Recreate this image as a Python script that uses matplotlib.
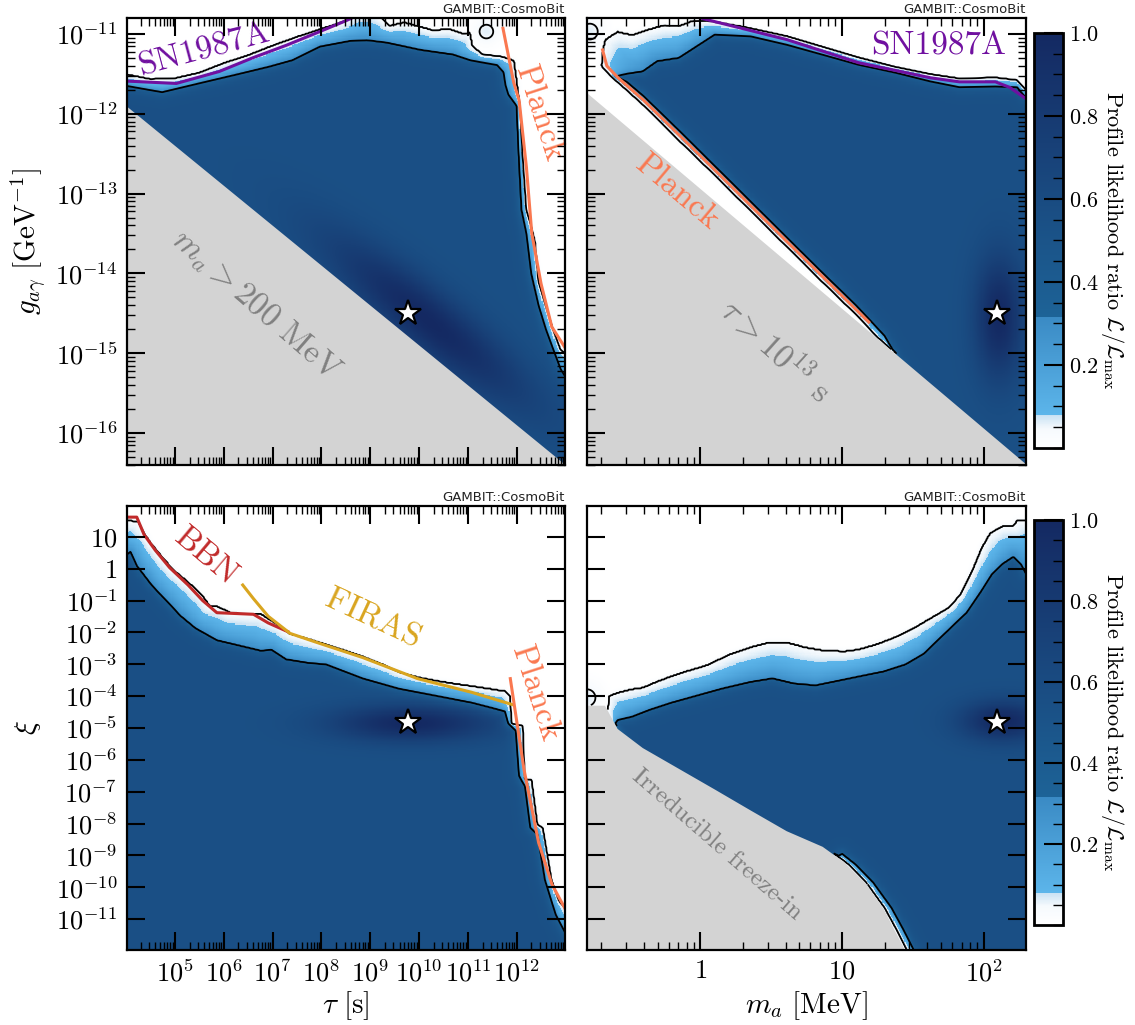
import numpy as np
import matplotlib
matplotlib.use("Agg")
import matplotlib.pyplot as plt
from matplotlib.path import Path
from matplotlib.colors import LinearSegmentedColormap, Normalize
from matplotlib.cm import ScalarMappable
from matplotlib import ticker

plt.rcParams.update({
    "font.family": "serif",
    "font.serif": ["cmr10", "DejaVu Serif"],
    "mathtext.fontset": "cm",
    "axes.unicode_minus": False,
    "axes.formatter.use_mathtext": True,
})

################################################################################
# Data (all values are log10 of the axis quantity)
################################################################################

# axis ranges
tau_lim = [4.02, 12.99]
ma_lim = [-0.8, 2.3]
g_lim = [-16.4, -10.8]
xi_lim = [-11.97, 1.97]

# contour levels: 2 sigma and 1 sigma of L/Lmax
lvl_2s = 0.0455
lvl_1s = 0.3166

# --- (tau, g) panel
a_out_x = [3.9, 4.0, 4.5, 5.0, 5.5, 6.0, 6.5, 7.0, 7.5, 8.0, 8.45, 8.7, 9.1, 9.4, 9.7, 10.0, 10.3, 10.6,
           10.9, 11.05, 11.1, 11.3, 11.7, 11.95, 12.0, 12.07, 12.12, 12.2, 12.3, 12.38, 12.45, 12.6, 12.75,
           12.9, 13.1]
a_out_y = [-11.50, -11.50, -11.56, -11.55, -11.48, -11.36, -11.26, -11.14, -11.03, -10.93, -10.84, -10.72,
           -10.72, -10.89, -10.85, -10.90, -10.95, -10.93, -10.99, -10.98, -11.15, -11.25, -11.28, -11.33,
           -11.55, -11.9, -12.5, -13.2, -13.4, -13.6, -14.1, -14.4, -14.7, -14.95, -15.05]
a_in_x = [3.9, 4.0, 4.74, 5.56, 6.26, 6.94, 7.41, 7.97, 8.58, 8.93, 9.34, 10.02, 10.70, 11.05, 11.60, 11.73,
          11.77, 11.83, 12.0, 12.05, 12.1, 12.2, 12.3, 12.45, 12.6, 12.75, 12.9, 13.1]
a_in_y = [-11.65, -11.65, -11.73, -11.61, -11.51, -11.41, -11.33, -11.16, -11.09, -11.08, -11.11, -11.20,
          -11.26, -11.33, -11.39, -11.48, -11.64, -11.76, -11.9, -12.6, -13.2, -13.5, -14.0, -14.4, -14.7,
          -14.95, -15.2, -15.4]
a_gray_x = [3.9, 13.1, 3.9]
a_gray_y = [-11.85, -16.45, -16.45]
a_sn_x = [4.0, 5.03, 5.91, 6.59, 7.29, 7.97, 8.52, 8.9]
a_sn_y = [-11.59, -11.62, -11.47, -11.30, -11.14, -10.97, -10.83, -10.72]
a_planck_x = [11.72, 11.94, 12.05, 12.2, 12.31, 12.5, 12.72, 12.98]
a_planck_y = [-10.93, -11.61, -11.83, -12.67, -13.5, -14.13, -14.67, -14.92]
a_star = [9.78, -14.50]

# --- (m_a, g) panel
b_out_x = [1.42, 1.38, 1.25, 1.10, 0.85, 0.60, 0.35, 0.10, -0.15, -0.40, -0.55, -0.64, -0.70, -0.69,
           -0.673, -0.584, -0.482, -0.381, -0.254, -0.152, -0.05, 0.051, 0.305, 0.61, 0.864, 1.118, 1.373,
           1.627, 1.83, 2.084, 2.237, 2.30, 2.4]
b_out_y = [-15.2, -15.0, -14.80, -14.52, -14.09, -13.65, -13.21, -12.77, -12.34, -11.90, -11.66, -11.52,
           -11.40, -11.2, -11.07, -10.967, -11.009, -10.947, -10.884, -10.896, -10.829, -10.829, -10.905,
           -11.022, -11.156, -11.29, -11.407, -11.499, -11.553, -11.541, -11.574, -11.70, -11.78]
b_in_x = [1.45, 1.30, 1.10, 0.85, 0.60, 0.35, 0.10, -0.15, -0.40, -0.52, -0.60, -0.52, -0.406, -0.305,
          -0.152, -0.025, 0.102, 0.356, 0.61, 0.864, 1.118, 1.373, 1.627, 1.83, 2.084, 2.237, 2.30, 2.4]
b_in_y = [-15.25, -14.78, -14.40, -13.97, -13.53, -13.09, -12.65, -12.21, -11.78, -11.60, -11.53, -11.50,
          -11.47, -11.344, -11.302, -11.156, -11.009, -11.03, -11.135, -11.26, -11.386, -11.482, -11.595,
          -11.667, -11.658, -11.667, -11.80, -11.9]
b_gray_x = [-0.9, 2.4, -0.9]
b_gray_y = [-11.59, -16.54, -16.54]
b_sn_x = [0.0, 0.61, 1.118, 1.627, 1.83, 2.084, 2.186, 2.29]
b_sn_y = [-10.8, -11.07, -11.36, -11.55, -11.60, -11.60, -11.67, -11.80]
b_planck_x = [-0.69, -0.66, -0.58, -0.40, 0.10, 0.60, 1.19]
b_planck_y = [-11.20, -11.40, -11.55, -11.83, -12.70, -13.58, -14.61]
b_star = [2.097, -14.50]

# --- (tau, xi) panel
c_out_x = [3.9, 4.04, 4.26, 4.37, 4.52, 4.75, 4.97, 5.27, 5.57, 5.72, 5.86, 6.16, 6.76, 7.06, 7.36, 7.73,
           8.10, 8.85, 9.29, 9.59, 9.97, 10.34, 10.79, 11.08, 11.76, 11.87, 11.90, 12.13, 12.17, 12.31,
           12.43, 12.54, 12.72, 12.87, 13.1]
c_out_y = [1.45, 1.54, 1.48, 1.13, 0.80, 0.37, -0.02, -0.40, -0.83, -1.16, -1.16, -1.38, -1.40, -1.70,
           -2.03, -2.19, -2.36, -2.74, -3.01, -3.23, -3.39, -3.50, -3.61, -3.67, -3.83, -3.99, -4.86, -4.92,
           -6.61, -6.61, -8.02, -8.13, -9.77, -10.42, -10.85]
c_in_x = [3.9, 4.0, 4.09, 4.22, 4.52, 4.82, 5.12, 5.42, 5.86, 6.46, 6.76, 6.98, 7.28, 7.73, 8.10, 8.85,
          9.59, 10.34, 11.08, 11.76, 11.83, 11.98, 12.05, 12.17, 12.28, 12.43, 12.58, 12.80, 13.1]
c_in_y = [0.2, 0.42, 0.53, 0.09, -0.51, -1.0, -1.49, -1.87, -2.25, -2.47, -2.58, -2.55, -2.85, -2.96,
          -3.01, -3.45, -3.77, -3.99, -4.21, -4.48, -4.86, -5.08, -6.50, -6.83, -8.13, -8.35, -9.77,
          -10.86, -11.75]
c_bbn_x = [4.0, 4.22, 4.37, 4.6, 4.89, 5.27, 5.57, 5.86, 6.61, 6.91, 7.32]
c_bbn_y = [1.62, 1.62, 1.07, 0.58, 0.04, -0.51, -1.0, -1.38, -1.43, -1.70, -1.98]
c_firas_x = [6.39, 6.61, 6.91, 7.36, 7.88, 8.85, 9.97, 11.08, 11.9]
c_firas_y = [-0.51, -0.94, -1.49, -2.03, -2.30, -2.79, -3.45, -3.88, -4.26]
c_planck_x = [11.87, 12.15, 12.45, 12.72, 13.0]
c_planck_y = [-3.45, -6.3, -8.6, -9.9, -10.7]
c_star = [9.78, -4.81]

# --- (m_a, xi) panel
d_out_up_x = [-0.62, -0.655, -0.648, -0.584, -0.482, -0.406, -0.305, -0.203, -0.101, 0.051, 0.204, 0.356,
              0.483, 0.610, 0.737, 0.864, 1.017, 1.118, 1.245, 1.373, 1.500, 1.627, 1.754, 1.830, 1.881,
              1.932, 1.982, 2.046, 2.135, 2.211, 2.236, 2.4]
d_out_up_y = [-4.9, -4.5, -3.99, -3.88, -3.77, -3.72, -3.53, -3.36, -3.21, -3.01, -2.68, -2.45, -2.30,
              -2.30, -2.45, -2.55, -2.58, -2.52, -2.36, -2.14, -1.87, -1.54, -1.21, -0.83, -0.40, 0.09,
              0.64, 1.13, 1.35, 1.35, 1.54, 1.54]
d_out_lo_x = [0.85, 0.95, 1.05, 1.17, 1.30, 1.38, 1.46, 1.48]
d_out_lo_y = [-9.2, -8.95, -9.3, -9.85, -10.65, -11.3, -12.0, -12.3]
d_in_up_x = [-0.56, -0.60, -0.584, -0.482, -0.355, -0.203, -0.025, 0.153, 0.356, 0.509, 0.661, 0.813,
             0.966, 1.118, 1.296, 1.449, 1.576, 1.677, 1.779, 1.881, 1.982, 2.059, 2.135, 2.211, 2.262,
             2.30, 2.4]
d_in_up_y = [-5.3, -4.85, -4.75, -4.65, -4.43, -4.21, -3.99, -3.77, -3.56, -3.45, -3.61, -3.67, -3.53,
             -3.39, -3.23, -3.01, -2.68, -2.25, -1.81, -1.38, -0.72, -0.18, 0.15, 0.37, 0.15, -0.18, -0.4]
d_in_lo_x = [0.90, 1.00, 1.10, 1.22, 1.35, 1.43, 1.51, 1.53]
d_in_lo_y = [-9.3, -8.95, -9.3, -9.85, -10.65, -11.3, -12.0, -12.3]
d_gray_x = [-0.85, -0.673, -0.584, -0.406, -0.152, 0.102, 0.356, 0.610, 0.864, 1.017, 1.169, 1.296,
            1.372, 1.449, 1.46, -0.85]
d_gray_y = [-4.30, -4.30, -5.03, -5.63, -6.28, -6.93, -7.59, -8.24, -8.73, -9.22, -9.88, -10.69, -11.35,
            -12.0, -12.1, -12.1]
d_star = [2.097, -4.81]

# darker best-fit blobs: centre x, centre y, half length [px], half width [px], angle [deg]
a_blob = [10.2, -14.6, 125, 30, -39]
b_blob = [2.11, -14.55, 60, 24, 90]
c_blob = [9.85, -4.85, 78, 18, 0]
d_blob = [2.14, -4.78, 42, 20, 0]

# small isolated 2 sigma islands: x, y, radius [px]
a_islands = [[11.38, -10.97, 13]]
b_islands = [[-0.78, -10.97, 15]]
d_islands = [[-0.80, -4.05, 16]]

################################################################################
# Helpers
################################################################################

cmap = LinearSegmentedColormap.from_list(
    "gambit_blue",
    [(0.0, "#ffffff"), (0.0455, "#f6fafd"), (0.08, "#c6e0f3"), (0.08, "#5cb5ea"), (0.3166, "#3a8ac4"),
     (0.3166, "#1d6397"), (1.0, "#142962")], N=512)


def log_formatter(lim):
    def pow_label(v, pos):
        e = np.log10(v)
        if e < lim[0] - 1e-6 or e > lim[1] + 1e-6:
            return ""
        e = int(round(e))
        if e == 0:
            return "$1$"
        if e == 1:
            return "$10$"
        return r"$10^{%d}$" % e
    return ticker.FuncFormatter(pow_label)


def curve_dist(qx, qy, curves, x0, y0, kx, ky):
    d2 = np.full(qx.shape, np.inf)
    for cx, cy in curves:
        vx = (np.asarray(cx, float) - x0) * kx
        vy = (np.asarray(cy, float) - y0) * ky
        for i in range(len(vx) - 1):
            dx = vx[i + 1] - vx[i]
            dy = vy[i + 1] - vy[i]
            l2 = dx * dx + dy * dy
            t = np.clip(((qx - vx[i]) * dx + (qy - vy[i]) * dy) / l2, 0, 1)
            d2 = np.minimum(d2, (qx - vx[i] - t * dx) ** 2 + (qy - vy[i] - t * dy) ** 2)
    return np.sqrt(d2)


def likelihood_map(ax, xlim, ylim, out_curves, out_poly, in_curves, in_poly, gray, blob, islands, star):
    pos = ax.get_position()
    kx = pos.width * 1135 / (xlim[1] - xlim[0])
    ky = pos.height * 1025 / (ylim[1] - ylim[0])
    gx = np.linspace(xlim[0], xlim[1], 400)
    gy = np.linspace(ylim[0], ylim[1], 400)
    GX, GY = np.meshgrid(gx, gy)
    qx = (GX - xlim[0]) * kx
    qy = (GY - ylim[0]) * ky
    pts = np.column_stack([GX.ravel(), GY.ravel()])

    inside_o = Path(np.column_stack(out_poly)).contains_points(pts).reshape(GX.shape)
    inside_i = Path(np.column_stack(in_poly)).contains_points(pts).reshape(GX.shape)
    d_o = curve_dist(qx, qy, out_curves, xlim[0], ylim[0], kx, ky) * np.where(inside_o, 1, -1)
    d_i = curve_dist(qx, qy, in_curves, xlim[0], ylim[0], kx, ky) * np.where(inside_i, 1, -1)

    bx = (blob[0] - xlim[0]) * kx
    by = (blob[1] - ylim[0]) * ky
    ang = np.deg2rad(blob[4])
    du = (qx - bx) * np.cos(ang) + (qy - by) * np.sin(ang)
    dv = -(qx - bx) * np.sin(ang) + (qy - by) * np.cos(ang)
    base = 0.55 + 0.45 * np.exp(-(du / blob[2]) ** 2 - (dv / blob[3]) ** 2)

    t = np.clip(d_o / np.maximum(d_o - d_i, 1e-6), 0, 1)
    L = np.where(d_o < 0, lvl_2s * np.exp(d_o / 2.0),
                 np.where(d_i < 0, lvl_2s + (lvl_1s - lvl_2s) * t ** 2.0,
                          lvl_1s + (base - lvl_1s) * (1 - np.exp(-d_i / 4.0))))
    # islands: faint bumps just over the 2 sigma level, so they show as white rings
    for ix, iy, rad in islands:
        r = np.hypot(qx - (ix - xlim[0]) * kx, qy - (iy - ylim[0]) * ky)
        L = np.where(d_o < 0, np.maximum(L, 0.06 * np.exp(-(r / rad) ** 2)), L)

    X = 10 ** gx
    Y = 10 ** gy
    ax.pcolormesh(X, Y, L, cmap=cmap, vmin=0, vmax=1, shading="nearest", rasterized=True, zorder=1)
    if gray is not None:
        in_gray = Path(np.column_stack(gray)).contains_points(pts).reshape(GX.shape)
        Lc = np.ma.masked_where(in_gray, L)
        ax.contour(X, Y, Lc, levels=[lvl_2s, lvl_1s], colors="k", linewidths=1.3, zorder=2)
        ax.fill(10 ** np.asarray(gray[0], float), 10 ** np.asarray(gray[1], float),
                color="#d3d3d3", lw=0, zorder=3)
    else:
        ax.contour(X, Y, L, levels=[lvl_2s, lvl_1s], colors="k", linewidths=1.3, zorder=2)
    ax.plot(10 ** star[0], 10 ** star[1], marker="*", ms=19, mfc="white", mec="black", mew=1.6,
            ls="none", zorder=8)


def style_axes(ax, xlim, ylim, yminor=True):
    ax.set_xscale("log")
    ax.set_yscale("log")
    ax.set_xlim(10 ** xlim[0], 10 ** xlim[1])
    ax.set_ylim(10 ** ylim[0], 10 ** ylim[1])
    for axis, minor, lim in ((ax.xaxis, True, xlim), (ax.yaxis, yminor, ylim)):
        axis.set_major_locator(ticker.LogLocator(base=10, numticks=60))
        if minor:
            axis.set_minor_locator(ticker.LogLocator(base=10, subs=np.arange(2, 10), numticks=60))
        else:
            axis.set_minor_locator(ticker.NullLocator())
        axis.set_major_formatter(log_formatter(lim))
        axis.set_minor_formatter(ticker.NullFormatter())
        axis.set_zorder(20)
    ax.tick_params(which="both", direction="in", top=True, right=True)
    ax.tick_params(which="major", length=13, width=1.5, labelsize=19, pad=7)
    ax.tick_params(which="minor", length=6, width=1.0)
    for sp in ax.spines.values():
        sp.set_linewidth(1.6)
        sp.set_zorder(20)
    ax.text(1.0, 1.004, "GAMBIT::CosmoBit", transform=ax.transAxes, ha="right", va="bottom",
            fontsize=9.5, family="DejaVu Sans", color="#222222")


def label(ax, x, y, s, color, size, rot):
    ax.text(10 ** x, 10 ** y, s, color=color, fontsize=size, rotation=rot, ha="center", va="center",
            rotation_mode="anchor", zorder=6)


def add_colorbar(cax):
    cb = fig.colorbar(ScalarMappable(norm=Normalize(0, 1), cmap=cmap), cax=cax)
    cb.set_ticks([0.2, 0.4, 0.6, 0.8, 1.0])
    cb.ax.yaxis.set_minor_locator(ticker.MultipleLocator(0.05))
    cb.ax.tick_params(which="both", direction="in", right=True, left=False, labelsize=16)
    cb.ax.tick_params(which="major", length=14, width=1.5, pad=4)
    cb.ax.tick_params(which="minor", length=7, width=1.0)
    cb.outline.set_linewidth(2)
    cb.set_label(r"Profile likelihood ratio $\mathcal{L}/\mathcal{L}_\mathrm{max}$", rotation=270,
                 fontsize=16, labelpad=20)


################################################################################
# Plotting
################################################################################

fig = plt.figure(figsize=(11.35, 10.25), dpi=100)
axA = fig.add_axes([127 / 1135, 1 - 465 / 1025, 438 / 1135, 447 / 1025])
axB = fig.add_axes([587 / 1135, 1 - 465 / 1025, 439 / 1135, 447 / 1025])
axC = fig.add_axes([127 / 1135, 1 - 950 / 1025, 438 / 1135, 444 / 1025])
axD = fig.add_axes([587 / 1135, 1 - 950 / 1025, 439 / 1135, 444 / 1025])
cax1 = fig.add_axes([1034 / 1135, 1 - 448 / 1025, 29 / 1135, 415 / 1025])
cax2 = fig.add_axes([1034 / 1135, 1 - 925 / 1025, 29 / 1135, 405 / 1025])

# closing points of the allowed regions run through the grey area or outside the frame
likelihood_map(axA, tau_lim, g_lim,
               [(a_out_x, a_out_y)], (a_out_x + [13.5, 13.5, 3.5, 3.5], a_out_y + [-15.05, -17.5, -17.5, -11.5]),
               [(a_in_x, a_in_y)], (a_in_x + [13.5, 13.5, 3.5, 3.5], a_in_y + [-15.4, -17.5, -17.5, -11.65]),
               (a_gray_x, a_gray_y), a_blob, a_islands, a_star)
likelihood_map(axB, ma_lim, g_lim,
               [(b_out_x, b_out_y)], (b_out_x + [2.6, 2.6], b_out_y + [-11.78, -17.5]),
               [(b_in_x, b_in_y)], (b_in_x + [2.6, 2.6], b_in_y + [-11.9, -17.5]),
               (b_gray_x, b_gray_y), b_blob, b_islands, b_star)
likelihood_map(axC, tau_lim, xi_lim,
               [(c_out_x, c_out_y)], (c_out_x + [13.5, 13.5, 3.5, 3.5], c_out_y + [-10.85, -13, -13, 1.45]),
               [(c_in_x, c_in_y)], (c_in_x + [13.5, 13.5, 3.5, 3.5], c_in_y + [-11.75, -13, -13, 0.2]),
               None, c_blob, [], c_star)
likelihood_map(axD, ma_lim, xi_lim,
               [(d_out_up_x, d_out_up_y), (d_out_lo_x, d_out_lo_y)],
               (d_out_up_x + [2.5, 2.5, 1.48] + d_out_lo_x[::-1] + [0.0, -0.8],
                d_out_up_y + [1.54, -12.5, -12.5] + d_out_lo_y[::-1] + [-9.5, -6.0]),
               [(d_in_up_x, d_in_up_y), (d_in_lo_x, d_in_lo_y)],
               (d_in_up_x + [2.5, 2.5, 1.53] + d_in_lo_x[::-1] + [0.0, -0.8],
                d_in_up_y + [-0.4, -12.5, -12.5] + d_in_lo_y[::-1] + [-9.5, -6.0]),
               (d_gray_x, d_gray_y), d_blob, d_islands, d_star)

# external constraints
axA.plot(10 ** np.array(a_sn_x), 10 ** np.array(a_sn_y), color="#7010a0", lw=2.2, zorder=5)
axA.plot(10 ** np.array(a_planck_x), 10 ** np.array(a_planck_y), color="#fa7850", lw=2.2, zorder=5)
axB.plot(10 ** np.array(b_sn_x), 10 ** np.array(b_sn_y), color="#7010a0", lw=2.2, zorder=5)
axB.plot(10 ** np.array(b_planck_x), 10 ** np.array(b_planck_y), color="#fa7850", lw=2.2, zorder=5)
axC.plot(10 ** np.array(c_bbn_x), 10 ** np.array(c_bbn_y), color="#c12a2a", lw=2.2, zorder=5)
axC.plot(10 ** np.array(c_firas_x), 10 ** np.array(c_firas_y), color="#d9a520", lw=2.2, zorder=5)
axC.plot(10 ** np.array(c_planck_x), 10 ** np.array(c_planck_y), color="#fa7850", lw=2.2, zorder=5)

label(axA, 5.60, -11.20, "SN1987A", "#7010a0", 24, 15)
label(axA, 12.47, -12.0, "Planck", "#fa7850", 24, -72)
label(axA, 6.67, -14.40, r"$m_a > 200\ \mathrm{MeV}$", "#808080", 24, -41)
label(axB, 1.686, -11.15, "SN1987A", "#7010a0", 24, 0)
label(axB, -0.164, -12.98, "Planck", "#fa7850", 24, -40)
label(axB, 0.535, -14.96, r"$\tau > 10^{13}\ \mathrm{s}$", "#808080", 24, -42)
label(axC, 5.64, 0.37, "BBN", "#c12a2a", 24, -40)
label(axC, 9.05, -1.60, "FIRAS", "#d9a520", 24, -25)
label(axC, 12.38, -3.93, "Planck", "#fa7850", 24, -72)
label(axD, 0.114, -8.67, "Irreducible freeze-in", "#808080", 18, -41)

style_axes(axA, tau_lim, g_lim)
style_axes(axB, ma_lim, g_lim)
style_axes(axC, tau_lim, xi_lim, yminor=False)
style_axes(axD, ma_lim, xi_lim, yminor=False)
axA.tick_params(labelbottom=False)
axB.tick_params(labelbottom=False, labelleft=False)
axD.tick_params(labelleft=False)

axA.set_ylabel(r"$g_{a\gamma}\ [\mathrm{GeV}^{-1}]$", fontsize=21, labelpad=5)
axC.set_ylabel(r"$\xi$", fontsize=21, labelpad=9)
axC.set_xlabel(r"$\tau\ [\mathrm{s}]$", fontsize=21, labelpad=2)
axD.set_xlabel(r"$m_a\ [\mathrm{MeV}]$", fontsize=21, labelpad=2)

add_colorbar(cax1)
add_colorbar(cax2)

fig.savefig("out.png", dpi=100)
